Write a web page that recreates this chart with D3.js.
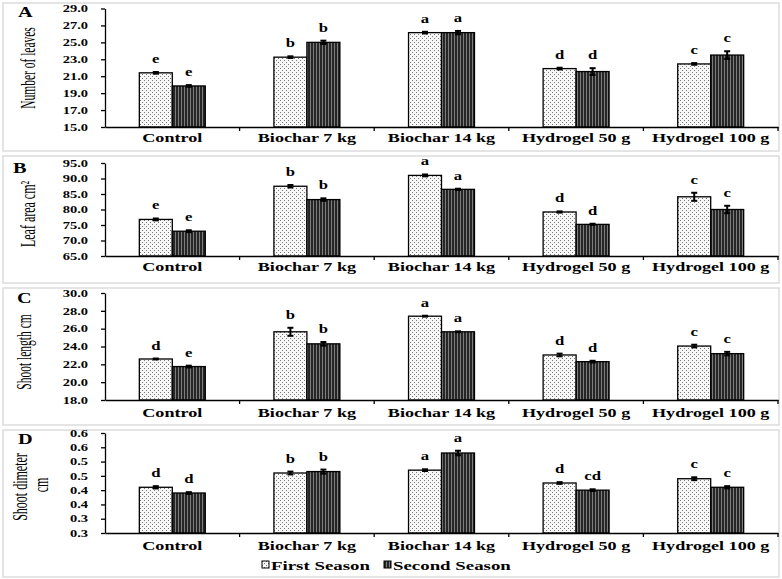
<!DOCTYPE html>
<html>
<head>
<meta charset="utf-8">
<script src="https://cdn.jsdelivr.net/npm/d3@7"></script>
<style>
  body { margin: 0; background: #fff; }
  svg text { font-family: "Liberation Serif", "Times New Roman", serif; fill: #000; }
</style>
</head>
<body>
<div id="chart"></div>
<script>
var categories = ['Control', 'Biochar 7 kg', 'Biochar 14 kg', 'Hydrogel 50 g', 'Hydrogel 100 g'];
var seasons = ['First Season', 'Second Season'];

// A - number of leaves
var leavesFirst = [21.4, 23.25, 26.15, 21.9, 22.45];
var leavesSecond = [19.85, 25.0, 26.15, 21.55, 23.5];
var leavesErrFirst = [0.1, 0.1, 0.1, 0.1, 0.1];
var leavesErrSecond = [0.1, 0.2, 0.2, 0.4, 0.45];
var leavesLetFirst = ['e', 'b', 'a', 'd', 'c'];
var leavesLetSecond = ['e', 'b', 'a', 'd', 'c'];
var leavesTicks = [15, 17, 19, 21, 23, 25, 27, 29];
var leavesTickLabels = ['15.0', '17.0', '19.0', '21.0', '23.0', '25.0', '27.0', '29.0'];

// B - leaf area
var areaFirst = [76.8, 87.5, 91.0, 79.2, 84.1];
var areaSecond = [73.0, 83.2, 86.5, 75.2, 80.0];
var areaErrFirst = [0.3, 0.4, 0.3, 0.2, 1.3];
var areaErrSecond = [0.3, 0.4, 0.2, 0.2, 1.2];
var areaLetFirst = ['e', 'b', 'a', 'd', 'c'];
var areaLetSecond = ['e', 'b', 'a', 'd', 'c'];
var areaTicks = [65, 70, 75, 80, 85, 90, 95];
var areaTickLabels = ['65.0', '70.0', '75.0', '80.0', '85.0', '90.0', '95.0'];

// C - shoot length
var lengthFirst = [22.6, 25.65, 27.4, 23.05, 24.05];
var lengthSecond = [21.75, 24.3, 25.65, 22.3, 23.2];
var lengthErrFirst = [0.05, 0.45, 0.05, 0.15, 0.15];
var lengthErrSecond = [0.1, 0.2, 0.05, 0.1, 0.2];
var lengthLetFirst = ['d', 'b', 'a', 'd', 'c'];
var lengthLetSecond = ['e', 'b', 'a', 'd', 'c'];
var lengthTicks = [18, 20, 22, 24, 26, 28, 30];
var lengthTickLabels = ['18.0', '20.0', '22.0', '24.0', '26.0', '28.0', '30.0'];

// D - shoot diameter
var diamFirst = [0.41, 0.46, 0.47, 0.425, 0.44];
var diamSecond = [0.39, 0.465, 0.53, 0.40, 0.41];
var diamErrFirst = [0.004, 0.005, 0.003, 0.003, 0.005];
var diamErrSecond = [0.003, 0.007, 0.008, 0.003, 0.004];
var diamLetFirst = ['d', 'b', 'a', 'd', 'c'];
var diamLetSecond = ['d', 'b', 'a', 'cd', 'c'];
var diamTicks = [0.25, 0.3, 0.35, 0.4, 0.45, 0.5, 0.55, 0.6];
var diamTickLabels = ['0.3', '0.3', '0.4', '0.4', '0.5', '0.5', '0.6', '0.6'];

var SX = 1.45; // source figure is stretched sideways, text too
var SXR = 1.8; // rotated titles look even wider

var panels = [
  { tag: 'A', box: [3, 151], range: [127, 8.5], pad: 6, ticks: leavesTicks, tickLabels: leavesTickLabels,
    first: leavesFirst, second: leavesSecond, errFirst: leavesErrFirst, errSecond: leavesErrSecond,
    letFirst: leavesLetFirst, letSecond: leavesLetSecond,
    tagPos: [18, 17], labels: [{ text: 'Number of leaves', x: 28, y: 68, size: 11.5 }] },
  { tag: 'B', box: [156, 283], range: [256, 163], pad: 6, ticks: areaTicks, tickLabels: areaTickLabels,
    first: areaFirst, second: areaSecond, errFirst: areaErrFirst, errSecond: areaErrSecond,
    letFirst: areaLetFirst, letSecond: areaLetSecond,
    tagPos: [13, 173], labels: [{ text: 'Leaf area cm\u00B2', x: 27, y: 214, size: 12 }] },
  { tag: 'C', box: [288, 425], range: [400, 293], pad: 8, ticks: lengthTicks, tickLabels: lengthTickLabels,
    first: lengthFirst, second: lengthSecond, errFirst: lengthErrFirst, errSecond: lengthErrSecond,
    letFirst: lengthLetFirst, letSecond: lengthLetSecond,
    tagPos: [17, 303], labels: [{ text: 'Shoot length cm', x: 24, y: 352, size: 11.5 }] },
  { tag: 'D', box: [430, 577], range: [533, 433], pad: 8, ticks: diamTicks, tickLabels: diamTickLabels,
    first: diamFirst, second: diamSecond, errFirst: diamErrFirst, errSecond: diamErrSecond,
    letFirst: diamLetFirst, letSecond: diamLetSecond,
    tagPos: [18, 444], labels: [{ text: 'Shoot dimeter', x: 19, y: 487, size: 12 },
                                 { text: 'cm', x: 40, y: 485, size: 12 }] }
];

var svg = d3.select('#chart').append('svg')
  .attr('width', 782)
  .attr('height', 579);

svg.append('rect').attr('width', 782).attr('height', 579).attr('fill', '#fff');

// fill patterns
var defs = svg.append('defs');
var dots = defs.append('pattern')
  .attr('id', 'dots')
  .attr('patternUnits', 'userSpaceOnUse')
  .attr('width', 4).attr('height', 4);
dots.append('rect').attr('width', 4).attr('height', 4).attr('fill', '#f7f7f7');
dots.append('rect').attr('x', 0).attr('y', 0).attr('width', 1).attr('height', 1).attr('fill', '#777');
dots.append('rect').attr('x', 2).attr('y', 2).attr('width', 1).attr('height', 1).attr('fill', '#777');

var stripes = defs.append('pattern')
  .attr('id', 'stripes')
  .attr('patternUnits', 'userSpaceOnUse')
  .attr('width', 3).attr('height', 4);
stripes.append('rect').attr('width', 3).attr('height', 4).attr('fill', '#262626');
stripes.append('rect').attr('x', 1).attr('width', 1).attr('height', 4).attr('fill', '#7d7d7d');

var fills = { 'First Season': 'url(#dots)', 'Second Season': 'url(#stripes)' };

var x = d3.scaleBand()
  .domain(categories)
  .range([105, 778]);

var xs = d3.scaleBand()
  .domain(seasons)
  .range([x.bandwidth() * 0.255, x.bandwidth() * 0.745]);

function stretched(parent, px, py, str, size, anchor, rotate) {
  var g = parent.append('g')
    .attr('transform', 'translate(' + px + ',' + py + ') scale(' + (rotate ? SXR : SX) + ',1)');
  var t = g.append('text')
    .attr('font-size', size)
    .attr('text-anchor', anchor || 'start')
    .text(str);
  if (rotate) {
    t.attr('transform', 'rotate(-90)').attr('dy', '0.35em');
  }
  return t;
}

function drawPanel(p) {
  var g = svg.append('g');

  g.append('rect')
    .attr('x', 3).attr('y', p.box[0])
    .attr('width', 776).attr('height', p.box[1] - p.box[0])
    .attr('fill', 'none')
    .attr('stroke', '#dcdcdc')
    .attr('stroke-width', 1.5);

  var y = d3.scaleLinear()
    .domain([p.ticks[0], p.ticks[p.ticks.length - 1]])
    .range(p.range);

  var rows = categories.map(function(c, i) {
    return [
      { cat: c, season: seasons[0], value: p.first[i], err: p.errFirst[i], letter: p.letFirst[i] },
      { cat: c, season: seasons[1], value: p.second[i], err: p.errSecond[i], letter: p.letSecond[i] }
    ];
  });
  var bars = [].concat.apply([], rows);

  // bars
  g.selectAll('rect.bar')
    .data(bars)
    .enter()
    .append('rect')
    .attr('class', 'bar')
    .attr('x', function(d) { return x(d.cat) + xs(d.season); })
    .attr('width', xs.bandwidth())
    .attr('y', function(d) { return y(d.value); })
    .attr('height', function(d) { return y.range()[0] - y(d.value); })
    .attr('fill', function(d) { return fills[d.season]; })
    .attr('stroke', '#000')
    .attr('stroke-width', 1.3);

  // error bars
  var eb = g.selectAll('g.err')
    .data(bars)
    .enter()
    .append('g')
    .attr('class', 'err')
    .attr('transform', function(d) {
      return 'translate(' + (x(d.cat) + xs(d.season) + xs.bandwidth() / 2) + ',0)';
    });
  eb.append('line')
    .attr('y1', function(d) { return y(d.value - d.err); })
    .attr('y2', function(d) { return y(d.value + d.err); })
    .attr('stroke', '#000').attr('stroke-width', 2);
  eb.append('line')
    .attr('x1', -3).attr('x2', 3)
    .attr('y1', function(d) { return y(d.value + d.err); })
    .attr('y2', function(d) { return y(d.value + d.err); })
    .attr('stroke', '#000').attr('stroke-width', 2);
  eb.append('line')
    .attr('x1', -3).attr('x2', 3)
    .attr('y1', function(d) { return y(d.value - d.err); })
    .attr('y2', function(d) { return y(d.value - d.err); })
    .attr('stroke', '#000').attr('stroke-width', 2);

  // significance letters
  bars.forEach(function(d) {
    stretched(g, x(d.cat) + xs(d.season) + xs.bandwidth() / 2, y(d.value + d.err) - 9,
      d.letter, 11.5, 'middle').attr('font-weight', 'bold');
  });

  // y axis
  var yAxis = d3.axisLeft(y)
    .tickValues(p.ticks)
    .tickFormat(function(d, i) { return p.tickLabels[i]; })
    .tickSize(4)
    .tickSizeOuter(0);
  var ya = g.append('g')
    .attr('transform', 'translate(105,0)')
    .call(yAxis);
  ya.selectAll('path, line').attr('stroke', '#000').attr('stroke-width', 1.3);
  ya.selectAll('.tick text')
    .attr('x', -17 / SX)
    .attr('transform', 'scale(' + SX + ',1)')
    .attr('font-size', 10)
    .attr('font-weight', 'bold');

  // x axis
  var xAxis = d3.axisBottom(x)
    .tickSize(0)
    .tickSizeOuter(0)
    .tickPadding(p.pad);
  var xa = g.append('g')
    .attr('transform', 'translate(0,' + p.range[0] + ')')
    .call(xAxis);
  xa.select('.domain').attr('stroke', '#000').attr('stroke-width', 1.3);
  xa.selectAll('.tick text')
    .attr('transform', 'scale(' + SX + ',1)')
    .attr('font-size', 12.5)
    .attr('font-weight', 'bold');
  xa.selectAll('line.sep')
    .data(categories)
    .enter()
    .append('line')
    .attr('class', 'sep')
    .attr('x1', function(d) { return x(d) + x.bandwidth(); })
    .attr('x2', function(d) { return x(d) + x.bandwidth(); })
    .attr('y1', 0).attr('y2', 4)
    .attr('stroke', '#000').attr('stroke-width', 1.3);

  // panel tag and axis title
  stretched(g, p.tagPos[0], p.tagPos[1], p.tag, 14).attr('font-weight', 'bold');
  p.labels.forEach(function(l) {
    stretched(g, l.x, l.y, l.text, l.size, 'middle', true);
  });
}

panels.forEach(drawPanel);

// legend
var legend = svg.append('g').attr('transform', 'translate(262,565)');
var lx = [0, 122];
seasons.forEach(function(s, i) {
  legend.append('rect')
    .attr('x', lx[i]).attr('y', -4)
    .attr('width', 7).attr('height', 7)
    .attr('fill', fills[s])
    .attr('stroke', '#000').attr('stroke-width', 1);
  stretched(legend, lx[i] + 9, 4.5, s, 13, 'start').attr('font-weight', 'bold');
});
</script>
</body>
</html>
